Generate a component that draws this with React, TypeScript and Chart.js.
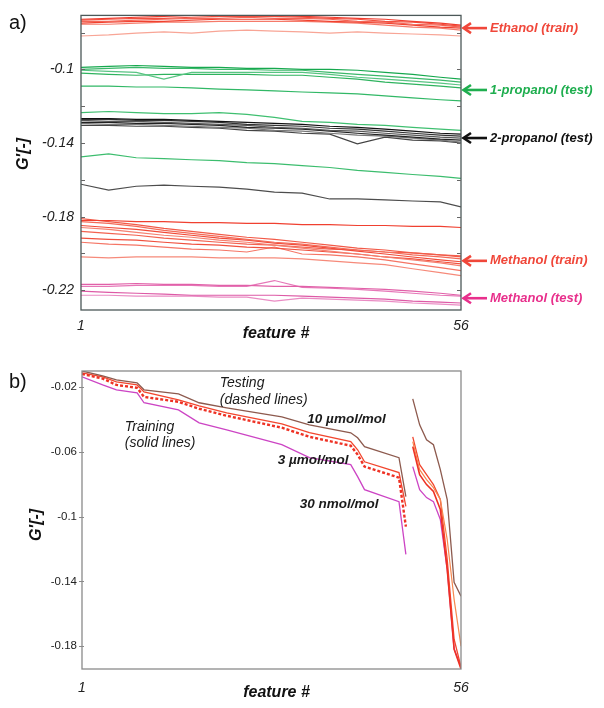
import React, { useEffect, useRef } from "react";
import { Chart, registerables } from "chart.js";
Chart.register(...registerables);

const FONT = "'Liberation Sans', Arial, Helvetica, sans-serif";

// ---------------- Panel a data ----------------
const featA = [1, 5, 9, 13, 17, 21, 25, 29, 33, 37, 41, 45, 49, 53, 56];
const xTicksA = [1, 56];
const yTicksA = [-0.1, -0.14, -0.18, -0.22];
const yMinorA = [-0.08, -0.1, -0.12, -0.14, -0.16, -0.18, -0.2, -0.22];
const yRangeA = [-0.2307, -0.0707];

const ethanol1 = [-0.0728,-0.0723,-0.0717,-0.0712,-0.0707,-0.0707,-0.0707,-0.0707,-0.0712,-0.0717,-0.0723,-0.0728,-0.0739,-0.0749,-0.0760];
const ethanol2 = [-0.0733,-0.0728,-0.0723,-0.0723,-0.0717,-0.0712,-0.0712,-0.0712,-0.0717,-0.0723,-0.0728,-0.0739,-0.0744,-0.0755,-0.0765];
const ethanol3 = [-0.0739,-0.0739,-0.0733,-0.0728,-0.0723,-0.0723,-0.0717,-0.0723,-0.0723,-0.0728,-0.0739,-0.0744,-0.0755,-0.0760,-0.0771];
const ethanol4 = [-0.0749,-0.0744,-0.0739,-0.0739,-0.0733,-0.0728,-0.0728,-0.0728,-0.0733,-0.0739,-0.0744,-0.0749,-0.0760,-0.0771,-0.0776];
const ethanol5 = [-0.0755,-0.0755,-0.0749,-0.0744,-0.0744,-0.0739,-0.0739,-0.0739,-0.0739,-0.0744,-0.0749,-0.0760,-0.0771,-0.0776,-0.0787];
const ethanol6 = [-0.0819,-0.0813,-0.0803,-0.0797,-0.0803,-0.0792,-0.0787,-0.0792,-0.0797,-0.0803,-0.0797,-0.0803,-0.0808,-0.0813,-0.0819];

const prop1a = [-0.0989,-0.0984,-0.0979,-0.0984,-0.0989,-0.0989,-0.0995,-0.0995,-0.1000,-0.1000,-0.1005,-0.1016,-0.1027,-0.1043,-0.1053];
const prop1b = [-0.1000,-0.0995,-0.0989,-0.0995,-0.0995,-0.1000,-0.1000,-0.1005,-0.1005,-0.1016,-0.1027,-0.1037,-0.1048,-0.1059,-0.1069];
const prop1c = [-0.1005,-0.1011,-0.1016,-0.1053,-0.1016,-0.1016,-0.1016,-0.1016,-0.1016,-0.1027,-0.1043,-0.1053,-0.1064,-0.1075,-0.1085];
const prop1d = [-0.1021,-0.1027,-0.1032,-0.1027,-0.1027,-0.1027,-0.1027,-0.1032,-0.1032,-0.1043,-0.1053,-0.1069,-0.1080,-0.1091,-0.1101];
const prop1e = [-0.1091,-0.1091,-0.1096,-0.1096,-0.1101,-0.1107,-0.1112,-0.1117,-0.1123,-0.1128,-0.1133,-0.1144,-0.1155,-0.1165,-0.1171];
const prop1f = [-0.1235,-0.1229,-0.1235,-0.1240,-0.1240,-0.1235,-0.1245,-0.1261,-0.1283,-0.1288,-0.1299,-0.1304,-0.1315,-0.1325,-0.1331];
const prop1g = [-0.1475,-0.1459,-0.1480,-0.1485,-0.1491,-0.1496,-0.1507,-0.1512,-0.1523,-0.1533,-0.1549,-0.1560,-0.1571,-0.1581,-0.1592];

const prop2a = [-0.1267,-0.1267,-0.1272,-0.1272,-0.1277,-0.1283,-0.1288,-0.1293,-0.1299,-0.1309,-0.1315,-0.1325,-0.1336,-0.1347,-0.1352];
const prop2b = [-0.1272,-0.1272,-0.1277,-0.1277,-0.1283,-0.1288,-0.1299,-0.1304,-0.1309,-0.1320,-0.1325,-0.1336,-0.1347,-0.1357,-0.1363];
const prop2c = [-0.1277,-0.1283,-0.1283,-0.1288,-0.1293,-0.1299,-0.1304,-0.1315,-0.1320,-0.1331,-0.1336,-0.1347,-0.1357,-0.1368,-0.1373];
const prop2d = [-0.1288,-0.1288,-0.1293,-0.1293,-0.1299,-0.1304,-0.1315,-0.1320,-0.1325,-0.1336,-0.1347,-0.1357,-0.1368,-0.1379,-0.1384];
const prop2e = [-0.1293,-0.1299,-0.1299,-0.1304,-0.1309,-0.1315,-0.1320,-0.1331,-0.1336,-0.1347,-0.1357,-0.1363,-0.1373,-0.1384,-0.1395];
const prop2f = [-0.1304,-0.1304,-0.1309,-0.1309,-0.1315,-0.1320,-0.1331,-0.1336,-0.1347,-0.1352,-0.1405,-0.1368,-0.1384,-0.1389,-0.1400];
const prop2g = [-0.1624,-0.1656,-0.1635,-0.1629,-0.1635,-0.1640,-0.1651,-0.1667,-0.1672,-0.1704,-0.1704,-0.1709,-0.1715,-0.1720,-0.1747];

const meth1 = [-0.1821,-0.1821,-0.1827,-0.1827,-0.1832,-0.1832,-0.1837,-0.1837,-0.1843,-0.1843,-0.1848,-0.1848,-0.1853,-0.1853,-0.1859];
const meth2 = [-0.1811,-0.1827,-0.1843,-0.1864,-0.1880,-0.1896,-0.1912,-0.1923,-0.1939,-0.1955,-0.1971,-0.1981,-0.1997,-0.2008,-0.2019];
const meth3 = [-0.1827,-0.1837,-0.1853,-0.1875,-0.1891,-0.1907,-0.1923,-0.1939,-0.1949,-0.1965,-0.1981,-0.1992,-0.2008,-0.2019,-0.2029];
const meth4 = [-0.1848,-0.1859,-0.1869,-0.1885,-0.1901,-0.1917,-0.1928,-0.1944,-0.1955,-0.1971,-0.1987,-0.2003,-0.2019,-0.2035,-0.2045];
const meth5 = [-0.1859,-0.1869,-0.1885,-0.1901,-0.1912,-0.1928,-0.1939,-0.1955,-0.1971,-0.1987,-0.2003,-0.2019,-0.2035,-0.2051,-0.2067];
const meth6 = [-0.1880,-0.1891,-0.1901,-0.1917,-0.1928,-0.1939,-0.1949,-0.1955,-0.1965,-0.1976,-0.1981,-0.1992,-0.1997,-0.2008,-0.2013];
const meth7 = [-0.1917,-0.1923,-0.1928,-0.1939,-0.1949,-0.1955,-0.1965,-0.1971,-0.1981,-0.1992,-0.2003,-0.2019,-0.2029,-0.2045,-0.2056];
const meth8 = [-0.1939,-0.1949,-0.1955,-0.1965,-0.1976,-0.1981,-0.1992,-0.1965,-0.2003,-0.2008,-0.2019,-0.2035,-0.2056,-0.2077,-0.2093];
const meth9 = [-0.2019,-0.2024,-0.2019,-0.2019,-0.2019,-0.2024,-0.2024,-0.2024,-0.2029,-0.2040,-0.2051,-0.2061,-0.2083,-0.2104,-0.2120];

const methTest1 = [-0.2168,-0.2168,-0.2163,-0.2168,-0.2168,-0.2173,-0.2173,-0.2179,-0.2179,-0.2184,-0.2189,-0.2195,-0.2205,-0.2216,-0.2227];
const methTest2 = [-0.2179,-0.2179,-0.2173,-0.2173,-0.2173,-0.2179,-0.2179,-0.2147,-0.2184,-0.2189,-0.2195,-0.2205,-0.2216,-0.2227,-0.2232];
const methTest3 = [-0.2205,-0.2211,-0.2216,-0.2221,-0.2227,-0.2227,-0.2227,-0.2227,-0.2232,-0.2237,-0.2243,-0.2248,-0.2259,-0.2264,-0.2269];
const methTest4 = [-0.2227,-0.2227,-0.2232,-0.2232,-0.2232,-0.2237,-0.2237,-0.2259,-0.2243,-0.2248,-0.2253,-0.2259,-0.2269,-0.2275,-0.2280];

const groupLabelsA = ["Ethanol (train)", "1-propanol (test)", "2-propanol (test)", "Methanol (train)", "Methanol (test)"];
const groupArrowYA = [-0.0776, -0.1112, -0.1373, -0.204, -0.2243];
const groupColorsA = ["#f0473a", "#1fae4f", "#111111", "#f0473a", "#e8308c"];

// ---------------- Panel b data ----------------
const featB1 = [1, 4, 6, 9, 10, 15, 18, 22, 30, 34, 40, 41, 42, 47, 48];
const featB2 = [49, 50, 51, 52, 53, 54, 55, 56];
const xTicksB = [1, 56];
const yTicksB = [-0.02, -0.06, -0.1, -0.14, -0.18];
const yRangeB = [-0.1941, -0.0102];

const ppm10Main = [-0.0102,-0.0132,-0.0157,-0.0175,-0.0218,-0.0243,-0.0298,-0.0329,-0.0385,-0.0434,-0.0483,-0.0514,-0.0569,-0.0637,-0.0877];
const ppm3Main = [-0.0114,-0.0138,-0.0169,-0.0188,-0.0231,-0.0280,-0.0317,-0.0360,-0.0428,-0.0483,-0.0538,-0.0588,-0.0662,-0.0729,-0.0938];
const ppm3TestMain = [-0.0120,-0.0149,-0.0188,-0.0206,-0.0262,-0.0292,-0.0335,-0.0378,-0.0452,-0.0508,-0.0563,-0.0618,-0.0692,-0.0760,-0.1062];
const ppb30Main = [-0.0138,-0.0188,-0.0218,-0.0237,-0.0298,-0.0342,-0.0422,-0.0465,-0.0557,-0.0637,-0.0680,-0.0754,-0.0834,-0.0908,-0.1234];

const ppm10Tail = [-0.0274,-0.0434,-0.0526,-0.0557,-0.0711,-0.0895,-0.1406,-0.1492];
const ppm3Tail = [-0.0508,-0.0680,-0.0742,-0.0803,-0.0895,-0.1265,-0.1757,-0.1929];
const ppm3TestTail = [-0.0569,-0.0742,-0.0803,-0.0846,-0.0957,-0.1326,-0.1818,-0.1941];
const ppm10TestTail = [-0.0538,-0.0711,-0.0772,-0.0822,-0.0895,-0.1142,-0.1511,-0.1800];
const ppb30Tail = [-0.0692,-0.0834,-0.0883,-0.0908,-0.1018,-0.1326,-0.1818,-0.1929];

const textLabelsB = [
  { text: "Testing", x: 21, y: -0.0175, style: "italic 14px" },
  { text: "(dashed lines)", x: 21, y: -0.028, style: "italic 14px" },
  { text: "Training", x: 7.2, y: -0.0446, style: "italic 14px" },
  { text: "(solid lines)", x: 7.2, y: -0.0545, style: "italic 14px" },
  { text: "10 \u00b5mol/mol", x: 33.7, y: -0.0403, style: "italic bold 13.5px" },
  { text: "3 \u00b5mol/mol", x: 29.4, y: -0.0655, style: "italic bold 13.5px" },
  { text: "30 nmol/mol", x: 32.6, y: -0.0926, style: "italic bold 13.5px" },
];

function ds(xs: number[], ys: number[], color: string, width = 1.2, dash: number[] = []) {
  return {
    data: xs.map((x, i) => ({ x, y: ys[i] })),
    borderColor: color,
    borderWidth: width,
    borderDash: dash,
    pointRadius: 0,
    fill: false,
    tension: 0,
  };
}

function drawTitles(ctx: CanvasRenderingContext2D, ca: any, letter: string, letterY: number, gx: number, gy: number) {
  ctx.fillStyle = "#111";
  ctx.font = `italic bold 16px ${FONT}`;
  ctx.textAlign = "center";
  ctx.textBaseline = "middle";
  ctx.fillText("feature #", (ca.left + ca.right) / 2 + 5, ca.bottom + 24);
  ctx.save();
  ctx.translate(gx, gy);
  ctx.rotate(-Math.PI / 2);
  ctx.fillText("G'[-]", 0, 0);
  ctx.restore();
  ctx.font = `20px ${FONT}`;
  ctx.textAlign = "left";
  ctx.fillText(letter, 9, letterY);
}

const overlayA = {
  id: "overlayA",
  afterDraw(chart: any) {
    const { ctx, chartArea: ca } = chart;
    const y = chart.scales.y;
    ctx.save();
    ctx.strokeStyle = "#4c5858";
    ctx.lineWidth = 1.3;
    ctx.strokeRect(ca.left, ca.top, ca.right - ca.left, ca.bottom - ca.top);
    ctx.strokeStyle = "#666";
    ctx.lineWidth = 1;
    yMinorA.forEach((v) => {
      const py = Math.round(y.getPixelForValue(v)) + 0.5;
      ctx.beginPath();
      ctx.moveTo(ca.left, py);
      ctx.lineTo(ca.left + 4, py);
      ctx.moveTo(ca.right, py);
      ctx.lineTo(ca.right - 4, py);
      ctx.stroke();
    });
    groupLabelsA.forEach((label, i) => {
      const py = y.getPixelForValue(groupArrowYA[i]);
      const c = groupColorsA[i];
      const x0 = ca.right + 1;
      ctx.strokeStyle = c;
      ctx.fillStyle = c;
      ctx.lineWidth = 2.6;
      ctx.beginPath();
      ctx.moveTo(x0 + 2, py);
      ctx.lineTo(x0 + 25, py);
      ctx.stroke();
      ctx.beginPath();
      ctx.moveTo(x0 + 9, py - 5);
      ctx.lineTo(x0 + 1.5, py);
      ctx.lineTo(x0 + 9, py + 5);
      ctx.stroke();
      ctx.font = `italic bold 13px ${FONT}`;
      ctx.textBaseline = "middle";
      ctx.textAlign = "left";
      ctx.fillText(label, x0 + 28, py);
    });
    drawTitles(ctx, ca, "a)", 23, 24, 154);
    ctx.restore();
  },
};

const overlayB = {
  id: "overlayB",
  afterDraw(chart: any) {
    const { ctx, chartArea: ca } = chart;
    const x = chart.scales.x;
    const y = chart.scales.y;
    ctx.save();
    ctx.strokeStyle = "#8a8a8a";
    ctx.lineWidth = 1.3;
    ctx.strokeRect(ca.left, ca.top, ca.right - ca.left, ca.bottom - ca.top);
    ctx.lineWidth = 1;
    yTicksB.forEach((v) => {
      const py = Math.round(y.getPixelForValue(v)) + 0.5;
      ctx.beginPath();
      ctx.moveTo(ca.left - 3, py);
      ctx.lineTo(ca.left + 2, py);
      ctx.stroke();
    });
    ctx.fillStyle = "#1a1a1a";
    ctx.textAlign = "left";
    ctx.textBaseline = "middle";
    textLabelsB.forEach((t) => {
      ctx.font = `${t.style} ${FONT}`;
      ctx.fillText(t.text, x.getPixelForValue(t.x), y.getPixelForValue(t.y));
    });
    drawTitles(ctx, ca, "b)", 32, 37, 175);
    ctx.restore();
  },
};

export default function App() {
  const refA = useRef<HTMLCanvasElement>(null);
  const refB = useRef<HTMLCanvasElement>(null);

  useEffect(() => {
    const common = (xTicks: number[], yTicks: number[], yRange: number[], yFont: any, yPad: number, xPad: number, yW: number, xH: number) => ({
      animation: false as const,
      responsive: false,
      maintainAspectRatio: false,
      events: [],
      plugins: { legend: { display: false }, tooltip: { enabled: false } },
      scales: {
        x: {
          type: "linear" as const,
          min: 1,
          max: 56,
          grid: { display: false, drawTicks: false },
          border: { display: false },
          afterBuildTicks: (s: any) => {
            s.ticks = xTicks.map((v) => ({ value: v }));
          },
          afterFit: (s: any) => {
            s.height = xH;
          },
          ticks: {
            autoSkip: false,
            maxRotation: 0,
            padding: xPad,
            color: "#222",
            font: { family: FONT, size: 14, style: "italic" as const },
            callback: (v: any) => String(v),
          },
        },
        y: {
          type: "linear" as const,
          min: yRange[0],
          max: yRange[1],
          grid: { display: false, drawTicks: false },
          border: { display: false },
          afterBuildTicks: (s: any) => {
            s.ticks = yTicks.map((v) => ({ value: v }));
          },
          afterFit: (s: any) => {
            s.width = yW;
          },
          ticks: {
            autoSkip: false,
            padding: yPad,
            color: "#222",
            font: yFont,
            callback: (v: any) => String(v),
          },
        },
      },
    });

    const optsA: any = common(xTicksA, yTicksA, yRangeA, { family: FONT, size: 14, style: "italic" }, 7, 8, 81, 40);
    optsA.layout = { padding: { left: 0, top: 12, right: 143, bottom: 0 } };
    const optsB: any = common(xTicksB, yTicksB, yRangeB, { family: FONT, size: 11.5 }, 5, 11, 82, 39);
    optsB.layout = { padding: { left: 0, top: 21, right: 143, bottom: 0 } };

    const chartA = new Chart(refA.current as HTMLCanvasElement, {
      type: "line",
      data: {
        datasets: [
          ds(featA, ethanol1, "#f03c2e"),
          ds(featA, ethanol2, "#f2503f"),
          ds(featA, ethanol3, "#f36455"),
          ds(featA, ethanol4, "#f0412f"),
          ds(featA, ethanol5, "#f57a6a"),
          ds(featA, ethanol6, "#f8a596"),
          ds(featA, prop1a, "#16a84e"),
          ds(featA, prop1b, "#3bb86a"),
          ds(featA, prop1c, "#58c482"),
          ds(featA, prop1d, "#2eb35e"),
          ds(featA, prop1e, "#31b866"),
          ds(featA, prop1f, "#3fbf70"),
          ds(featA, prop1g, "#3cbd6e"),
          ds(featA, prop2a, "#111111"),
          ds(featA, prop2b, "#333333"),
          ds(featA, prop2c, "#555555"),
          ds(featA, prop2d, "#222222"),
          ds(featA, prop2e, "#777777"),
          ds(featA, prop2f, "#444444"),
          ds(featA, prop2g, "#4d4d4d"),
          ds(featA, meth1, "#f04030"),
          ds(featA, meth2, "#f25a48"),
          ds(featA, meth3, "#f36a58"),
          ds(featA, meth4, "#f14a38"),
          ds(featA, meth5, "#f58070"),
          ds(featA, meth6, "#f36250"),
          ds(featA, meth7, "#f0503e"),
          ds(featA, meth8, "#f57565"),
          ds(featA, meth9, "#f68a7a"),
          ds(featA, methTest1, "#e160a8"),
          ds(featA, methTest2, "#e677b8"),
          ds(featA, methTest3, "#dd5aa6"),
          ds(featA, methTest4, "#ea8cc4"),
        ],
      },
      options: optsA,
      plugins: [overlayA],
    });

    const chartB = new Chart(refB.current as HTMLCanvasElement, {
      type: "line",
      data: {
        datasets: [
          ds(featB1, ppm3TestMain, "#ee3124", 2.4, [3, 2]),
          ds(featB2, ppm3TestTail, "#ee3124", 1.6),
          ds(featB1, ppm10Main, "#8d5a4e", 1.3),
          ds(featB2, ppm10Tail, "#8d5a4e", 1.3),
          ds(featB2, ppm10TestTail, "#f6884f", 1.2),
          ds(featB1, ppm3Main, "#f2462e", 1.3),
          ds(featB2, ppm3Tail, "#f2462e", 1.3),
          ds(featB1, ppb30Main, "#cc44c4", 1.3),
          ds(featB2, ppb30Tail, "#cc44c4", 1.3),
        ],
      },
      options: optsB,
      plugins: [overlayB],
    });

    return () => {
      chartA.destroy();
      chartB.destroy();
    };
  }, []);

  return (
    <div style={{ position: "absolute", left: 0, top: 0, width: 604, height: 708, background: "#fff" }}>
      <canvas ref={refA} width={604} height={350} style={{ position: "absolute", left: 0, top: 0, width: 604, height: 350 }} />
      <canvas ref={refB} width={604} height={358} style={{ position: "absolute", left: 0, top: 350, width: 604, height: 358 }} />
    </div>
  );
}
